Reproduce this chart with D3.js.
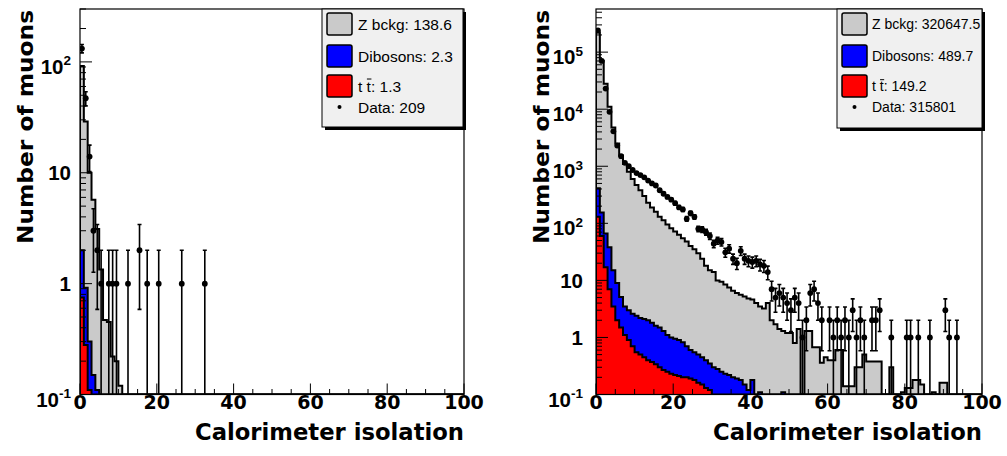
<!DOCTYPE html>
<html><head><meta charset="utf-8">
<script src="https://cdn.jsdelivr.net/npm/d3@7"></script>
<style>body{margin:0;background:#fff}</style>
</head><body><svg id="c" width="1007" height="456"></svg>
<script>
// ---------------- data ----------------
const nBins = 100;               // bins of width 1 from 0 to 100
const xTickValues = [0, 20, 40, 60, 80, 100];
const legendNames = ["Z bckg", "Dibosons", "ttbar", "Data"];

// left panel
const leftTtbar    = [0.75, 0.28, 0.11, 0.06];
const leftDibosons = [1.25, 0.64, 0.19, 0.09, 0.11];
const leftZ        = [90, 28.1, 9.7, 5.55, 3.0, 1.34, 0.47, 0.45, 0.22, 0.2, 0.12];
const leftData     = [132,47,14,3,2,1,0,1,1,1,0,0,1,0,0,2,0,1,0,0,1,0,0,0,0,0,1,0,0,0,0,0,1];
const leftLegendValues = ["138.6", "2.3", "1.3", "209"];
const leftYExponents = [-1, 0, 1, 2];

// right panel
const rightTtbar = [130, 60, 17, 7, 3.5, 2.0, 1.5, 1.1, 0.9, 0.7, 0.55, 0.5, 0.45, 0.4, 0.37, 0.34, 0.3, 0.27, 0.25, 0.23,
  0.22, 0.21, 0.2, 0.2, 0.19, 0.18, 0.16, 0.15, 0.13, 0.12, 0.1, 0.09];
const rightDibosons = [280, 95, 49, 31, 11.5, 7, 3.6, 2.4, 2.1, 1.9, 1.85, 1.7, 1.65, 1.6, 1.43, 1.26, 1.2, 1.03, 0.85, 0.77,
  0.73, 0.69, 0.62, 0.5, 0.41, 0.37, 0.34, 0.3, 0.27, 0.23, 0.2, 0.19, 0.25, 0.23, 0.22, 0.2, 0.19, 0.18, 0.15, 0.12,
  0.18, 0, 0.11, 0, 0, 0, 0, 0, 0.11];
const rightZ = [219590, 69845, 27934, 10962, 4785, 2491, 1545, 1096, 797, 597.4, 467.6, 377.8, 297.9, 228, 188.2, 158.4, 128.5, 111.7, 93.9, 81,
  71.05, 62.1, 54.18, 47.3, 39.4, 34.45, 29.5, 23.55, 17.6, 14.65, 13.7, 9.72, 9.25, 8.27, 7.28, 6.4, 5.81, 5.42, 5.05, 4.68,
  4.42, 4.0, 3.39, 3.2, 4.0, 2.0, 1.7, 1.4, 1.19, 1.2, 1.2, 0.8, 1.4, 0, 1.3, 1.3, 0.67, 0.67, 0.36, 0.45,
  0.4, 0.4, 0.6, 0.6, 0.14, 0.14, 0.14, 0.3, 0.3, 0.5, 0.38, 0.38, 0.38, 0.38, 0, 0, 0.3, 0, 0, 0.11,
  0.13, 0.13, 0.18, 0.18, 0.15, 0, 0, 0.11, 0, 0.16, 0.16, 0, 0, 0, 0, 0, 0, 0, 0, 0];
const rightData = [240000, 70000, 23000, 9000, 4100, 2300, 1500, 1150, 1000, 860,
  760, 700, 640, 560, 500, 460, 380, 330, 290, 260,
  225, 190, 175, 120, 150, 130, 80, 78, 70, 60,
  44, 50, 47, 31, 36, 24, 20, 33, 24, 22,
  21, 22, 19, 18, 14, 7, 5, 6, 5, 4,
  3, 5, 4, 1, 2, 6, 7, 4, 2, 0,
  2, 1, 2, 1, 2, 1, 3, 1, 2, 1,
  0, 2, 2, 3, 0, 0, 1, 0, 0, 0,
  1, 1, 0, 1, 0, 0, 1, 0, 0, 0,
  3, 1, 0, 1, 0, 0, 0, 0, 0, 0];
const rightLegendValues = ["320647.5", "489.7", "149.2", "315801"];
const rightYExponents = [-1, 0, 1, 2, 3, 4, 5];

// ---------------- drawing ----------------
const svg = d3.select("#c");
svg.append("rect").attr("width", 1007).attr("height", 456).attr("fill", "#fff");
const BOLD = "'DejaVu Sans', sans-serif";
const BOLD2 = "'Liberation Sans', Arial, sans-serif";
const REG = "'Liberation Sans', Arial, sans-serif";
const colors = {z: "#cacaca", dib: "#0000ff", ttbar: "#ff0000"};

const panels = [
  {id: "L", x0: 80, x1: 464, yTop: 9, yBot: 394.5, yMax: 300, ttbar: leftTtbar, dib: leftDibosons, z: leftZ,
   data: leftData, exps: leftYExponents, legVals: leftLegendValues, labelGap: 9, titleX: 33,
   leg: {x: 322, y: 9, w: 141, h: 118, bx: 327, tx: 358, fs: 15.5}},
  {id: "R", x0: 596, x1: 982, yTop: 9, yBot: 394.5, yMax: 5.7e5, ttbar: rightTtbar, dib: rightDibosons, z: rightZ,
   data: rightData, exps: rightYExponents, legVals: rightLegendValues, labelGap: 13, titleX: 549,
   leg: {x: 837, y: 9, w: 145, h: 119, bx: 842, tx: 872, fs: 14}}
];

panels.forEach(p => {
  const x = d3.scaleLinear().domain([0, 100]).range([p.x0, p.x1]);
  const y = d3.scaleLog().domain([0.1, p.yMax]).range([p.yBot, p.yTop]);
  const ymin = 0.1;
  const g = svg.append("g");
  g.append("clipPath").attr("id", "clip" + p.id).append("rect")
    .attr("x", p.x0).attr("y", p.yTop).attr("width", p.x1 - p.x0).attr("height", p.yBot - p.yTop);

  const rows = d3.range(nBins).map(i => ({bin: i, ttbar: p.ttbar[i] || 0, dib: p.dib[i] || 0, z: p.z[i] || 0}));
  const stacked = d3.stack().keys(["ttbar", "dib", "z"])(rows);
  const yv = v => (v > ymin ? y(v) : p.yBot);
  function stepPath(tops) {
    let d = `M${x(0)},${p.yBot}`;
    tops.forEach((v, i) => { const yy = yv(v); d += `L${x(i)},${yy}L${x(i + 1)},${yy}`; });
    d += `L${x(nBins)},${p.yBot}`;
    return d;
  }
  const hg = g.append("g").attr("clip-path", `url(#clip${p.id})`);
  [["z", 2], ["dib", 1], ["ttbar", 0]].forEach(([key, idx]) => {
    const tops = stacked[idx].map(s => s[1]);
    hg.append("path").attr("d", stepPath(tops) + "Z").attr("fill", colors[key]).attr("stroke", "none");
    hg.append("path").attr("d", stepPath(tops)).attr("fill", "none").attr("stroke", "#000").attr("stroke-width", 2);
  });

  // data points with sqrt(N) error bars
  const pts = p.data.map((n, i) => ({i, n})).filter(d => d.n > 0);
  const dg = hg.append("g");
  pts.forEach(d => {
    const cx = x(d.i + 0.5);
    const e = Math.sqrt(d.n);
    const yHi = y(d.n + e);
    const yLo = d.n - e > ymin ? y(d.n - e) : p.yBot;
    dg.append("line").attr("x1", cx).attr("x2", cx).attr("y1", yHi).attr("y2", yLo)
      .attr("stroke", "#000").attr("stroke-width", 1.6);
    dg.append("line").attr("x1", cx - 2).attr("x2", cx + 2).attr("y1", yHi).attr("y2", yHi)
      .attr("stroke", "#000").attr("stroke-width", 1.6);
    if (yLo < p.yBot) dg.append("line").attr("x1", cx - 2).attr("x2", cx + 2).attr("y1", yLo).attr("y2", yLo)
      .attr("stroke", "#000").attr("stroke-width", 1.6);
    dg.append("circle").attr("cx", cx).attr("cy", y(d.n)).attr("r", 2.9).attr("fill", "#000");
  });

  // frame
  g.append("rect").attr("x", p.x0).attr("y", p.yTop).attr("width", p.x1 - p.x0).attr("height", p.yBot - p.yTop)
    .attr("fill", "none").attr("stroke", "#000").attr("stroke-width", 1.2);

  // x ticks
  d3.range(0, 101, 5).forEach(v => {
    const len = v % 20 === 0 ? 11 : 5.5;
    g.append("line").attr("x1", x(v)).attr("x2", x(v)).attr("y1", p.yBot).attr("y2", p.yBot - len)
      .attr("stroke", "#000").attr("stroke-width", 1);
  });
  xTickValues.forEach(v => {
    g.append("text").attr("x", x(v)).attr("y", 408.5).attr("text-anchor", "middle")
      .attr("font-family", BOLD).attr("font-weight", "bold").attr("font-size", 19).text(v);
  });
  // y ticks
  const expMin = p.exps[0], expMax = Math.ceil(Math.log10(p.yMax));
  for (let e = expMin; e <= expMax; e++) {
    for (let m = 1; m <= 9; m++) {
      const v = m * Math.pow(10, e);
      if (v < 0.1 || v > p.yMax) continue;
      const len = m === 1 ? 12 : 6;
      g.append("line").attr("x1", p.x0).attr("x2", p.x0 + len).attr("y1", y(v)).attr("y2", y(v))
        .attr("stroke", "#000").attr("stroke-width", 1);
    }
  }
  p.exps.forEach(e => {
    const t = g.append("text").attr("x", p.x0 - p.labelGap).attr("text-anchor", "end")
      .attr("font-family", BOLD2).attr("font-weight", "bold").attr("font-size", 20.5);
    if (e === 0 || e === 1) {
      t.attr("y", y(Math.pow(10, e)) + 7.3).text(e === 0 ? "1" : "10");
    } else {
      t.attr("y", y(Math.pow(10, e)) + 12);
      t.append("tspan").text("10");
      t.append("tspan").attr("font-size", 13.5).attr("dy", -8.5).text(String(e));
    }
  });
  // axis titles
  g.append("text").attr("x", p.x1).attr("y", 440).attr("text-anchor", "end")
    .attr("font-family", BOLD).attr("font-weight", "bold").attr("font-size", 23)
    .attr("textLength", 269).attr("lengthAdjust", "spacingAndGlyphs").text("Calorimeter isolation");
  g.append("text").attr("transform", `translate(${p.titleX},10) rotate(-90)`).attr("text-anchor", "end")
    .attr("font-family", BOLD).attr("font-weight", "bold").attr("font-size", 22)
    .attr("textLength", 234).attr("lengthAdjust", "spacingAndGlyphs").text("Number of muons");

  // legend
  const L = p.leg;
  g.append("rect").attr("x", L.x + 3).attr("y", L.y + 3).attr("width", L.w).attr("height", L.h).attr("fill", "#000");
  g.append("rect").attr("x", L.x).attr("y", L.y).attr("width", L.w).attr("height", L.h)
    .attr("fill", "#f0f0f0").attr("stroke", "#000").attr("stroke-width", 1);
  const rowY = [24, 56, 86, 107];
  const fills = [colors.z, colors.dib, colors.ttbar];
  legendNames.forEach((name, k) => {
    const cy = rowY[k];
    if (k < 3) {
      g.append("rect").attr("x", L.bx).attr("y", cy - 11).attr("width", 25).attr("height", 22).attr("rx", 2)
        .attr("fill", fills[k]).attr("stroke", "#000").attr("stroke-width", 1.5);
    } else {
      g.append("circle").attr("cx", L.bx + 12.5).attr("cy", cy).attr("r", 2).attr("fill", "#000");
    }
    const txt = g.append("text").attr("x", L.tx).attr("y", cy + L.fs * 0.36)
      .attr("font-family", REG).attr("font-size", L.fs);
    if (name === "ttbar") {
      txt.text("t t: " + p.legVals[k]);
      const node = txt.node();
      const s = node.getStartPositionOfChar(2).x, w = node.getSubStringLength(2, 1);
      g.append("line").attr("x1", s + 0.3).attr("x2", s + w + 0.5).attr("y1", cy - L.fs * 0.45).attr("y2", cy - L.fs * 0.45)
        .attr("stroke", "#000").attr("stroke-width", 1);
    } else {
      txt.text(name + ": " + p.legVals[k]);
    }
  });
});
</script></body></html>
